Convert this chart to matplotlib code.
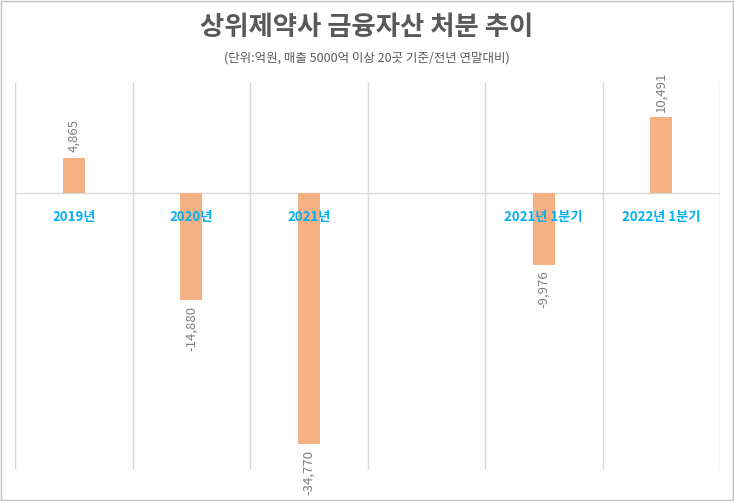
import matplotlib
matplotlib.use("Agg")
import matplotlib.pyplot as plt
from matplotlib import font_manager
import numpy as np

categories = ["2019년", "2020년", "2021년", "", "2021년 1분기", "2022년 1분기"]
values = [4865, -14880, -34770, np.nan, -9976, 10491]

names = {f.name for f in font_manager.fontManager.ttflist}
fam = next((n for n in ["Noto Sans CJK KR", "Noto Sans CJK JP", "Noto Sans CJK SC",
                        "Noto Sans CJK TC"] if n in names), "DejaVu Sans")
plt.rcParams["font.family"] = [fam, "DejaVu Sans"]
fig = plt.figure(figsize=(7.34, 5.01), dpi=100)
fig.patches.append(plt.Rectangle((0.002, 0.002), 0.996, 0.996, transform=fig.transFigure,
                                 fill=False, edgecolor="#bfbfbf", lw=1))
ax = fig.add_axes([15/734, 31/501, 705/734, 388/501])
x = np.arange(len(categories))
ax.bar(x, values, width=0.19, color="#F4B183", zorder=3)
ax.set_xlim(-0.5, len(categories) - 0.5)
ax.set_ylim(-38360, 15370)
for b in np.arange(-0.5, len(categories), 1):
    ax.axvline(b, color="#d9d9d9", lw=1, zorder=1)
ax.axhline(0, color="#d9d9d9", lw=1, zorder=2)
for s in ax.spines.values():
    s.set_visible(False)
ax.set_xticks([]); ax.set_yticks([])
for xi, v, c in zip(x, values, categories):
    if c:
        ax.annotate(c, (xi, 0), xytext=(0, -17), textcoords="offset points",
                    ha="center", va="center", color="#00B0F0", fontsize=9.5, fontweight="bold",
                    zorder=4)
    if not np.isnan(v):
        ax.annotate(f"{v:,.0f}", (xi, v), xytext=(0, 4 if v > 0 else -4), textcoords="offset points",
                    ha="center", va="bottom" if v > 0 else "top", rotation=90,
                    color="#7f7f7f", fontsize=9.5, annotation_clip=False)
fig.text(0.5, 0.945, "상위제약사 금융자산 처분 추이", ha="center", va="center",
         fontsize=19, fontweight="bold", color="#595959")
fig.text(0.5, 0.885, "(단위:억원, 매출 5000억 이상 20곳 기준/전년 연말대비)", ha="center",
         va="center", fontsize=9, color="#595959")
fig.savefig("out.png", dpi=100)
